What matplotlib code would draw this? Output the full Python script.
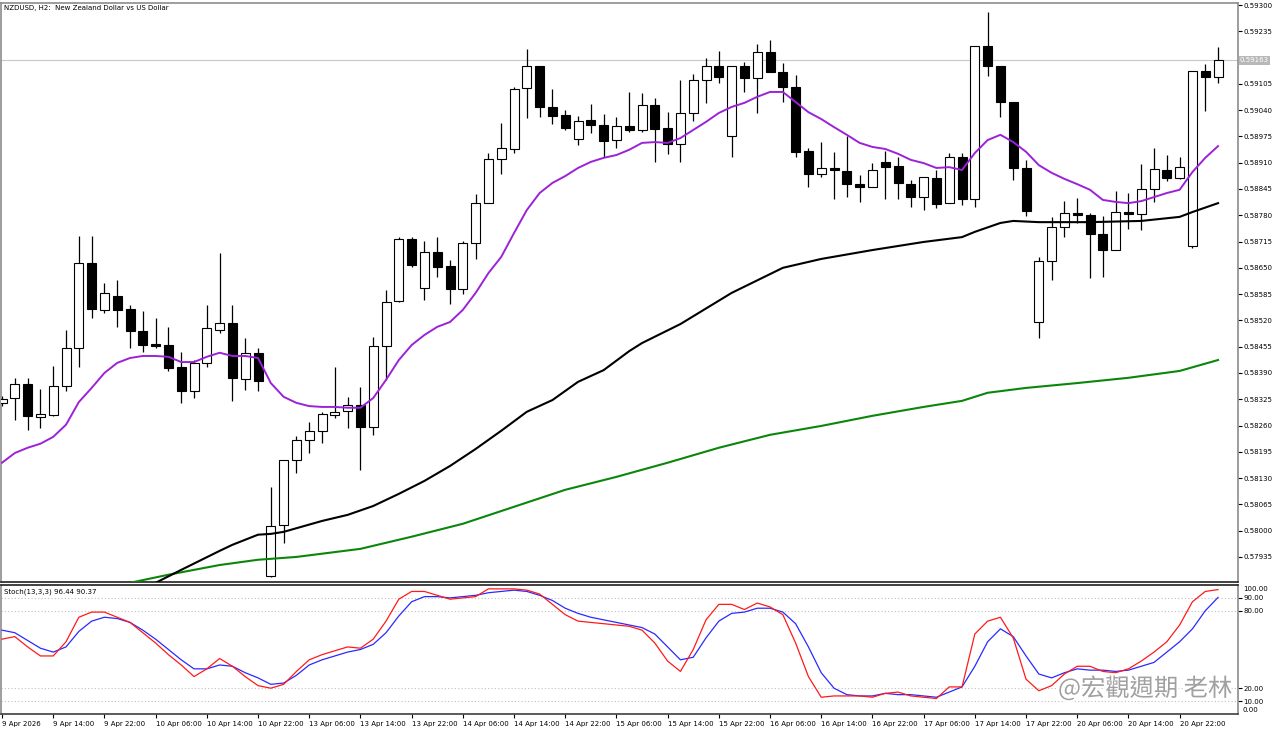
import matplotlib
matplotlib.use("Agg")
import matplotlib.pyplot as plt
import matplotlib.patheffects as pe
import numpy as np

W, H = 1280, 731

# H2 candles, 9 Apr 06:00 -> 21 Apr 04:00
OPEN = [
    0.58316, 0.58328, 0.58363, 0.58281, 0.58286, 0.58358, 0.58452, 0.58662, 0.58546, 0.58580,
    0.58548, 0.58494, 0.58462, 0.58459, 0.58405, 0.58346, 0.58415, 0.58496, 0.58514, 0.58375,
    0.58440, 0.57888, 0.58014, 0.58175, 0.58224, 0.58247, 0.58286, 0.58296, 0.58311, 0.58257,
    0.58457, 0.58568, 0.58721, 0.58600, 0.58689, 0.58655, 0.58598, 0.58712, 0.58810, 0.58919,
    0.58944, 0.59095, 0.59149, 0.59048, 0.59028, 0.58969, 0.59016, 0.59003, 0.58966, 0.59001,
    0.58991, 0.59053, 0.58996, 0.58956, 0.59033, 0.59115, 0.59149, 0.58976, 0.59149, 0.59120,
    0.59184, 0.59134, 0.59097, 0.58939, 0.58882, 0.58897, 0.58890, 0.58857, 0.58850, 0.58912,
    0.58902, 0.58857, 0.58825, 0.58872, 0.58810, 0.58924, 0.58820, 0.59199, 0.59149, 0.59060,
    0.58897, 0.58516, 0.58667, 0.58751, 0.58786, 0.58781, 0.58734, 0.58694, 0.58788, 0.58783,
    0.58845, 0.58892, 0.58872, 0.58704, 0.59137, 0.59122,
]
HIGH = [
    0.58333, 0.58378, 0.58378, 0.58351, 0.58407, 0.58496, 0.58729, 0.58729, 0.58613, 0.58620,
    0.58558, 0.58543, 0.58526, 0.58504, 0.58442, 0.58422, 0.58558, 0.58687, 0.58558, 0.58477,
    0.58452, 0.58108, 0.58175, 0.58234, 0.58269, 0.58294, 0.58405, 0.58331, 0.58355, 0.58479,
    0.58595, 0.58726, 0.58726, 0.58717, 0.58726, 0.58670, 0.58717, 0.58833, 0.58934, 0.59008,
    0.59097, 0.59191, 0.59149, 0.59092, 0.59040, 0.59026, 0.59055, 0.59031, 0.59023, 0.59085,
    0.59082, 0.59070, 0.59035, 0.59115, 0.59129, 0.59169, 0.59186, 0.59149, 0.59159, 0.59204,
    0.59214, 0.59157, 0.59127, 0.58946, 0.58961, 0.58937, 0.58976, 0.58880, 0.58909, 0.58939,
    0.58924, 0.58867, 0.58875, 0.58892, 0.58934, 0.58934, 0.59199, 0.59283, 0.59149, 0.59060,
    0.58917, 0.58677, 0.58776, 0.58815, 0.58823, 0.58786, 0.58778, 0.58840, 0.58835, 0.58907,
    0.58946, 0.58929, 0.58924, 0.59137, 0.59154, 0.59196,
]
LOW = [
    0.58308, 0.58274, 0.58249, 0.58254, 0.58284, 0.58346, 0.58405, 0.58526, 0.58538, 0.58504,
    0.58452, 0.58442, 0.58452, 0.58395, 0.58316, 0.58328, 0.58405, 0.58489, 0.58321, 0.58348,
    0.58346, 0.57886, 0.57970, 0.58143, 0.58192, 0.58217, 0.58279, 0.58254, 0.58150, 0.58237,
    0.58373, 0.58566, 0.58652, 0.58571, 0.58627, 0.58561, 0.58585, 0.58672, 0.58810, 0.58882,
    0.58934, 0.59021, 0.59023, 0.59006, 0.58991, 0.58954, 0.58984, 0.58924, 0.58946, 0.58986,
    0.58986, 0.58912, 0.58932, 0.58912, 0.59013, 0.59058, 0.59107, 0.58924, 0.59085, 0.59033,
    0.59134, 0.59060, 0.58924, 0.58850, 0.58875, 0.58820, 0.58825, 0.58813, 0.58850, 0.58820,
    0.58820, 0.58801, 0.58793, 0.58798, 0.58810, 0.58806, 0.58801, 0.59125, 0.59023, 0.58867,
    0.58778, 0.58477, 0.58620, 0.58726, 0.58761, 0.58625, 0.58627, 0.58694, 0.58746, 0.58744,
    0.58813, 0.58865, 0.58870, 0.58699, 0.59038, 0.59107,
]
CLOSE = [
    0.58326, 0.58363, 0.58284, 0.58289, 0.58358, 0.58452, 0.58662, 0.58548, 0.58588, 0.58546,
    0.58494, 0.58459, 0.58457, 0.58402, 0.58346, 0.58415, 0.58501, 0.58514, 0.58378, 0.58440,
    0.58370, 0.58012, 0.58175, 0.58224, 0.58247, 0.58289, 0.58294, 0.58311, 0.58257, 0.58457,
    0.58566, 0.58721, 0.58657, 0.58689, 0.58652, 0.58598, 0.58712, 0.58810, 0.58919, 0.58946,
    0.59092, 0.59149, 0.59048, 0.59026, 0.58996, 0.59013, 0.59003, 0.58964, 0.59001, 0.58991,
    0.59053, 0.58993, 0.58956, 0.59033, 0.59115, 0.59149, 0.59122, 0.59149, 0.59120, 0.59184,
    0.59134, 0.59097, 0.58937, 0.58882, 0.58897, 0.58892, 0.58857, 0.58850, 0.58892, 0.58899,
    0.58860, 0.58825, 0.58875, 0.58808, 0.58924, 0.58820, 0.59199, 0.59149, 0.59060, 0.58897,
    0.58791, 0.58667, 0.58751, 0.58786, 0.58781, 0.58734, 0.58694, 0.58788, 0.58783, 0.58845,
    0.58895, 0.58872, 0.58899, 0.59137, 0.59122, 0.59163,
]

# moving averages
MA_FAST = [
    0.58168, 0.58192, 0.58205, 0.58215, 0.58232, 0.58262, 0.58318, 0.58353, 0.58390, 0.58415,
    0.58427, 0.58432, 0.58432, 0.58430, 0.58417, 0.58417, 0.58430, 0.58440, 0.58432, 0.58432,
    0.58427, 0.58365, 0.58331, 0.58316, 0.58308, 0.58306, 0.58306, 0.58304, 0.58304, 0.58328,
    0.58373, 0.58422, 0.58459, 0.58484, 0.58504, 0.58516, 0.58546, 0.58588, 0.58637, 0.58677,
    0.58736, 0.58793, 0.58835, 0.58860, 0.58877, 0.58897, 0.58912, 0.58922, 0.58929, 0.58942,
    0.58959, 0.58961, 0.58959, 0.58971, 0.58991, 0.59011, 0.59033, 0.59048, 0.59058, 0.59073,
    0.59085, 0.59085, 0.59060, 0.59035, 0.59018, 0.58998, 0.58979, 0.58959, 0.58949, 0.58944,
    0.58932, 0.58917, 0.58909, 0.58897, 0.58899, 0.58892, 0.58934, 0.58966, 0.58979, 0.58961,
    0.58937, 0.58904, 0.58885, 0.58870, 0.58857, 0.58843, 0.58818, 0.58813, 0.58810, 0.58815,
    0.58825, 0.58835, 0.58843, 0.58887, 0.58922, 0.58951,
]
MA_MID_BARS = [10, 12, 14, 17, 18, 20, 21, 22, 25, 27, 29, 31, 33, 35, 37, 39, 41, 43, 45, 47,
               49, 50, 53, 57, 61, 64, 68, 72, 75, 76, 78, 79, 81, 85, 89, 92, 93, 95]
MA_MID = [0.57839, 0.57871, 0.57903, 0.57950, 0.57965, 0.57990, 0.57992, 0.57997, 0.58024, 0.58039,
          0.58061, 0.58091, 0.58123, 0.58160, 0.58202, 0.58247, 0.58294, 0.58323, 0.58368, 0.58397,
          0.58444, 0.58464, 0.58511, 0.58588, 0.58650, 0.58672, 0.58694, 0.58714, 0.58726, 0.58739,
          0.58761, 0.58766, 0.58763, 0.58763, 0.58766, 0.58776, 0.58788, 0.58810]
MA_SLOW_BARS = [9, 10, 13, 17, 20, 23, 25, 28, 32, 36, 40, 44, 48, 52, 56, 60, 64, 68, 72, 75,
                77, 80, 84, 88, 92, 95]
MA_SLOW = [0.57861, 0.57871, 0.57891, 0.57915, 0.57928, 0.57935, 0.57943, 0.57955, 0.57985, 0.58017,
           0.58059, 0.58101, 0.58133, 0.58168, 0.58205, 0.58237, 0.58259, 0.58284, 0.58306, 0.58321,
           0.58341, 0.58353, 0.58365, 0.58378, 0.58395, 0.58422]

STOCH_K = [58, 60, 52, 45, 45, 56, 75, 79, 79, 75, 71, 63, 55, 46, 38, 29, 35, 43, 37, 29,
           22, 20, 23, 33, 42, 46, 49, 52, 51, 58, 72, 89, 95, 95, 92, 89, 90, 91, 97, 97,
           97, 96, 93, 85, 77, 72, 71, 70, 69, 68, 65, 55, 41, 33, 50, 73, 85, 85, 81, 86,
           83, 77, 55, 29, 13, 14, 14, 14, 13, 16, 17, 14, 13, 12, 21, 21, 62, 72, 75, 59,
           27, 18, 22, 31, 37, 37, 33, 32, 35, 41, 48, 56, 69, 87, 95, 96.44]
STOCH_D = [65, 63, 57, 51, 48, 52, 64, 72, 75, 74, 71, 65, 58, 50, 42, 35, 35, 38, 37, 32,
           28, 23, 24, 30, 38, 42, 45, 48, 50, 54, 63, 76, 87, 91, 91, 90, 91, 92, 94, 95,
           96, 95, 92, 88, 82, 78, 75, 73, 71, 69, 67, 62, 52, 42, 44, 59, 72, 78, 79, 82,
           82, 79, 70, 52, 32, 20, 15, 14, 14, 16, 15, 15, 14, 13, 17, 21, 37, 56, 66, 60,
           45, 31, 28, 32, 35, 34, 34, 33, 34, 37, 40, 48, 56, 66, 80, 90.37]

TIME_LABELS = ["9 Apr 2026", "9 Apr 14:00", "9 Apr 22:00", "10 Apr 06:00", "10 Apr 14:00",
               "10 Apr 22:00", "13 Apr 06:00", "13 Apr 14:00", "13 Apr 22:00", "14 Apr 06:00",
               "14 Apr 14:00", "14 Apr 22:00", "15 Apr 06:00", "15 Apr 14:00", "15 Apr 22:00",
               "16 Apr 06:00", "16 Apr 14:00", "16 Apr 22:00", "17 Apr 06:00", "17 Apr 14:00",
               "17 Apr 22:00", "20 Apr 06:00", "20 Apr 14:00", "20 Apr 22:00"]
PRICE_TICKS = [0.57935, 0.58000, 0.58065, 0.58130, 0.58195, 0.58260, 0.58325, 0.58390, 0.58455,
               0.58520, 0.58585, 0.58650, 0.58715, 0.58780, 0.58845, 0.58910, 0.58975, 0.59040,
               0.59105, 0.59235, 0.59300]
STOCH_LEVELS = [10, 20, 80, 90]
LAST_PRICE = 0.59163

FS = 5.0
FRAME = "#8c8c8c"

fig = plt.figure(figsize=(W / 100, H / 100), dpi=100)
fig.patch.set_facecolor("white")

ax = fig.add_axes([1 / W, 1 - 582 / H, 1237 / W, 579 / H])
ax_st = fig.add_axes([1 / W, 1 - 714 / H, 1237 / W, 129 / H])

x = np.arange(len(OPEN))
o = np.array(OPEN)
c = np.array(CLOSE)
bull = c >= o
body_lo = np.minimum(o, c)
body_h = np.maximum(np.abs(c - o), 0.000022)

ax.vlines(x, LOW, HIGH, color="black", lw=0.9, zorder=2)
ax.bar(x[bull], body_h[bull], bottom=body_lo[bull], width=0.7, color="white",
       edgecolor="black", linewidth=0.8, zorder=3)
ax.bar(x[~bull], body_h[~bull], bottom=body_lo[~bull], width=0.7, color="black",
       edgecolor="black", linewidth=0.8, zorder=3)

ax.plot(MA_SLOW_BARS, MA_SLOW, color="#0a870a", lw=1.5, zorder=4)
ax.plot(MA_MID_BARS, MA_MID, color="black", lw=1.5, zorder=4)
ax.plot(x, MA_FAST, color="#9b22d8", lw=1.4, zorder=4)

ax.axhline(LAST_PRICE, color="#c8c8c8", lw=0.8, zorder=1)

ax.set_xlim(-0.08, 96.56)
ax.set_ylim(0.57873, 0.59305)
ax.yaxis.tick_right()
ax.set_yticks(PRICE_TICKS)
ax.set_yticklabels([f"{v:.5f}" for v in PRICE_TICKS])
ax.tick_params(axis="y", direction="out", length=3, width=0.8, pad=1, labelsize=FS)
ax.set_xticks([])
for side in ("left", "top", "right"):
    ax.spines[side].set_color(FRAME)
    ax.spines[side].set_linewidth(1.2)
ax.spines["bottom"].set_color("#202020")
ax.spines["bottom"].set_linewidth(1.2)

ax.text(1.0 + 2 / W, LAST_PRICE, f"{LAST_PRICE:.5f}", transform=ax.get_yaxis_transform(),
        va="center", ha="left", fontsize=FS, color="white",
        bbox=dict(boxstyle="square,pad=0.2", facecolor="#b8b8b8", edgecolor="none"))

fig.text(4 / W, 1 - 8 / H, "NZDUSD, H2:  New Zealand Dollar vs US Dollar",
         fontsize=FS, va="center", ha="left")

# stochastic panel
for lvl in STOCH_LEVELS:
    ax_st.axhline(lvl, color="#c0c0c0", lw=0.8, ls=(0, (1, 2)), zorder=1)
ax_st.plot(x, STOCH_D, color="#2a2aff", lw=0.9, zorder=3)
ax_st.plot(x, STOCH_K, color="#ff1a1a", lw=0.9, zorder=3)
ax_st.set_xlim(-0.08, 96.56)
ax_st.set_ylim(0, 100)
ax_st.yaxis.tick_right()
ax_st.set_yticks(STOCH_LEVELS)
ax_st.set_yticklabels([f"{v:.2f}" for v in STOCH_LEVELS])
ax_st.tick_params(axis="y", direction="out", length=3, width=0.8, pad=1, labelsize=FS)
ax_st.text(1.0 + 5 / W, 1.0 - 4 / 129, "100.00", transform=ax_st.transAxes,
           va="center", ha="left", fontsize=FS)
ax_st.text(1.0 + 5 / W, 4 / 129, "0.00", transform=ax_st.transAxes,
           va="center", ha="left", fontsize=FS)
tick_bars = list(range(0, 4 * len(TIME_LABELS), 4))
ax_st.set_xticks(tick_bars)
ax_st.set_xticklabels(TIME_LABELS)
ax_st.tick_params(axis="x", direction="out", length=3, width=0.8, pad=2, labelsize=FS)
for lab in ax_st.get_xticklabels():
    lab.set_ha("left")
for side in ("left", "right", "bottom"):
    ax_st.spines[side].set_color(FRAME)
    ax_st.spines[side].set_linewidth(1.2)
ax_st.spines["bottom"].set_color("#404040")
ax_st.spines["top"].set_color("#202020")
ax_st.spines["top"].set_linewidth(1.2)
fig.text(4 / W, 1 - 592 / H, "Stoch(13,3,3) 96.44 90.37", fontsize=FS, va="center", ha="left")

# watermark, kept inside the plot frame so it does not sit on the axis labels
fig.text(1058 / W, 1 - 689 / H, "@宏觀週期 老林", fontsize=17.5, color="#a0a0a0",
         va="center", ha="left", family=["Noto Sans CJK TC", "DejaVu Sans"],
         path_effects=[pe.withStroke(linewidth=3, foreground="white")], zorder=10)

fig.savefig("out.png", dpi=100, facecolor="white")
